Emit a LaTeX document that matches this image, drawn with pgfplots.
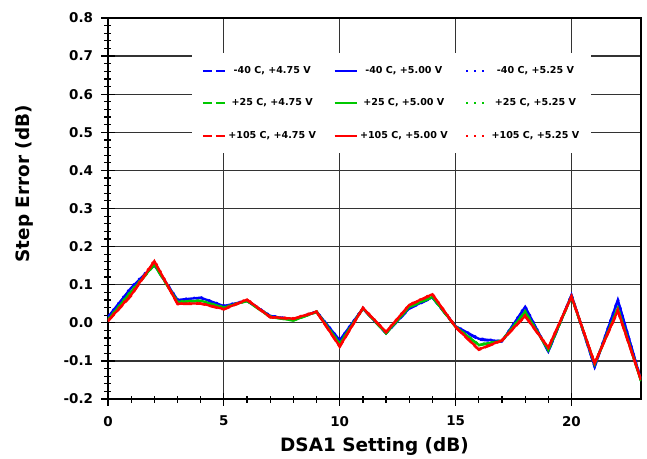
\documentclass[border=0pt]{standalone}
\usepackage{fontspec}
\setmainfont{DejaVu Sans}
\usepackage{pgfplots}
\pgfplotsset{compat=1.18}
\usepackage{pgfplotstable}
\definecolor{cblue}{RGB}{0,0,255}
\definecolor{cgreen}{RGB}{0,200,0}
\definecolor{cred}{RGB}{255,0,0}

% columns: a = +4.75 V, b = +5.00 V, c = +5.25 V
\pgfplotstableread{
x a b c
0 0.014 0.015 0.016
1 0.090 0.092 0.094
2 0.151 0.152 0.154
3 0.059 0.060 0.061
4 0.065 0.066 0.067
5 0.043 0.044 0.045
6 0.057 0.058 0.059
7 0.018 0.018 0.019
8 0.008 0.008 0.009
9 0.029 0.029 0.030
10 -0.047 -0.046 -0.045
11 0.037 0.038 0.039
12 -0.028 -0.027 -0.026
13 0.037 0.038 0.039
14 0.066 0.067 0.068
15 -0.010 -0.009 -0.008
16 -0.044 -0.042 -0.041
17 -0.050 -0.049 -0.048
18 0.041 0.042 0.044
19 -0.076 -0.075 -0.074
20 0.072 0.073 0.074
21 -0.116 -0.115 -0.113
22 0.058 0.060 0.062
23 -0.151 -0.150 -0.149
}\tblm
\pgfplotstableread{
x a b c
0 0.007 0.008 0.009
1 0.080 0.082 0.084
2 0.152 0.153 0.155
3 0.054 0.055 0.056
4 0.057 0.058 0.059
5 0.039 0.040 0.041
6 0.057 0.058 0.059
7 0.015 0.016 0.017
8 0.006 0.006 0.007
9 0.028 0.029 0.030
10 -0.056 -0.055 -0.054
11 0.037 0.038 0.039
12 -0.028 -0.027 -0.026
13 0.041 0.042 0.043
14 0.067 0.068 0.069
15 -0.011 -0.010 -0.009
16 -0.059 -0.058 -0.057
17 -0.048 -0.047 -0.046
18 0.028 0.029 0.031
19 -0.072 -0.071 -0.070
20 0.068 0.069 0.070
21 -0.109 -0.108 -0.107
22 0.036 0.038 0.040
23 -0.153 -0.152 -0.151
}\tblr
\pgfplotstableread{
x a b c
0 0.004 0.005 0.006
1 0.071 0.073 0.075
2 0.161 0.162 0.164
3 0.049 0.050 0.051
4 0.050 0.051 0.052
5 0.035 0.036 0.037
6 0.060 0.061 0.062
7 0.014 0.015 0.016
8 0.010 0.011 0.012
9 0.028 0.029 0.030
10 -0.063 -0.062 -0.061
11 0.038 0.039 0.040
12 -0.025 -0.024 -0.023
13 0.046 0.047 0.048
14 0.074 0.075 0.076
15 -0.012 -0.011 -0.010
16 -0.071 -0.070 -0.069
17 -0.047 -0.046 -0.045
18 0.017 0.018 0.020
19 -0.066 -0.065 -0.064
20 0.068 0.069 0.070
21 -0.107 -0.106 -0.105
22 0.030 0.032 0.034
23 -0.151 -0.150 -0.149
}\tblh

\begin{document}
\begin{tikzpicture}
\begin{axis}[
  name=ax,
  scale only axis,
  width=533bp, height=381bp,
  xmin=0, xmax=23, ymin=-0.2, ymax=0.8,
  xtick={0,5,10,15,20},
  ytick={-0.2,-0.1,0,0.1,0.2,0.3,0.4,0.5,0.6,0.7,0.8},
  minor x tick num=4,
  minor y tick num=4,
  xtick pos=bottom, ytick pos=left,
  tick align=center,
  major tick length=13bp,
  minor tick length=7bp,
  tick style={black, line width=1.2bp},
  axis line style={line width=1.8bp},
  grid=major,
  major grid style={black!80, line width=1.2bp},
  ticklabel style={font=\bfseries\fontsize{13.5}{15}\selectfont},
  xticklabel style={yshift=-7bp},
  yticklabel style={xshift=-5bp, /pgf/number format/.cd, fixed, fixed zerofill, precision=1},
  /pgf/number format/assume math mode=true,
  xlabel={DSA1 Setting (dB)},
  ylabel={Step Error (dB)},
  label style={font=\bfseries\fontsize{18.5}{20}\selectfont},
  xlabel style={at={(axis description cs:0.5,-0.1234)}, anchor=center},
  ylabel style={at={(axis description cs:-0.157,0.565)}, anchor=center},
  legend columns=3,
  legend cell align=center,
  legend style={draw=none, fill=white, at={(axis description cs:0.157,0.908)}, anchor=north west,
    inner xsep=10bp, inner ysep=11.5bp,
    nodes={inner sep=1.5bp},
    font=\bfseries\fontsize{9.6}{11}\selectfont, row sep=21bp,
    /tikz/every odd column/.append style={column sep=1bp},
    /tikz/every even column/.append style={column sep=16bp}},
  legend image code/.code={\draw[#1, line width=2bp] (0bp,0bp) -- (22bp,0bp);},
]
\addplot[cblue, line width=2.3bp, dash pattern=on 9bp off 4bp] table[x=x,y=a]{\tblm};
\addlegendentry{-40 C, +4.75 V}
\addplot[cblue, line width=2.3bp] table[x=x,y=b]{\tblm};
\addlegendentry{-40 C, +5.00 V}
\addplot[cblue, line width=2.3bp, dash pattern=on 2bp off 6bp] table[x=x,y=c]{\tblm};
\addlegendentry{-40 C, +5.25 V}
\addplot[cgreen, line width=2.3bp, dash pattern=on 9bp off 4bp] table[x=x,y=a]{\tblr};
\addlegendentry{+25 C, +4.75 V}
\addplot[cgreen, line width=2.3bp] table[x=x,y=b]{\tblr};
\addlegendentry{+25 C, +5.00 V}
\addplot[cgreen, line width=2.3bp, dash pattern=on 2bp off 6bp] table[x=x,y=c]{\tblr};
\addlegendentry{+25 C, +5.25 V}
\addplot[cred, line width=2.3bp, dash pattern=on 9bp off 4bp] table[x=x,y=a]{\tblh};
\addlegendentry{+105 C, +4.75 V}
\addplot[cred, line width=2.3bp] table[x=x,y=b]{\tblh};
\addlegendentry{+105 C, +5.00 V}
\addplot[cred, line width=2.3bp, dash pattern=on 2bp off 6bp] table[x=x,y=c]{\tblh};
\addlegendentry{+105 C, +5.25 V}
\end{axis}
\path ([xshift=-108bp,yshift=-60bp]ax.south west) rectangle ([xshift=6bp,yshift=18bp]ax.north east);
\end{tikzpicture}
\end{document}
